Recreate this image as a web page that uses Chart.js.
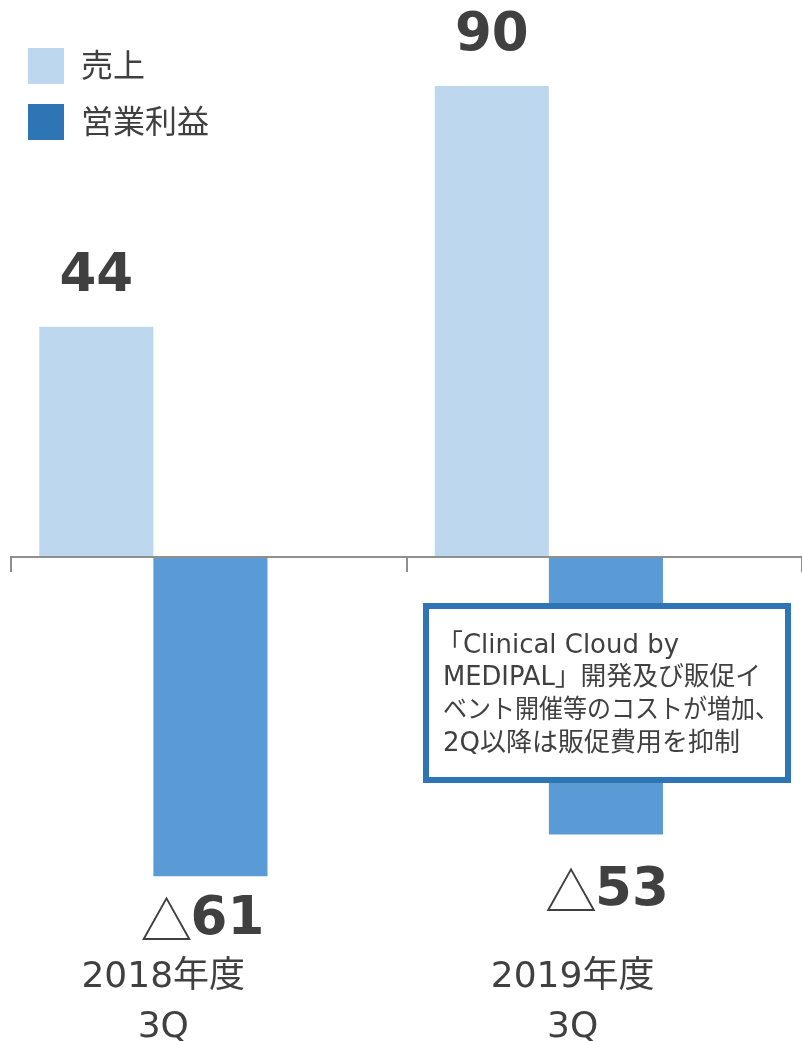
<!DOCTYPE html>
<html>
<head>
<meta charset="utf-8">
<script src="https://cdn.jsdelivr.net/npm/chart.js@4/dist/chart.umd.min.js"></script>
<style>
  html, body { margin: 0; padding: 0; background: #fff; }
  canvas { display: block; }
</style>
</head>
<body>
<canvas id="sales-chart" width="802" height="1041"></canvas>
<script>
const categories = [["2018年度", "3Q"], ["2019年度", "3Q"]];
const seriesNames = ["売上", "営業利益"];
const sales = [44, 90];
const operatingProfit = [-61, -53];
const noteLines = ["「Clinical Cloud by", "MEDIPAL」開発及び販促イ", "ベント開催等のコストが増加、", "2Q以降は販促費用を抑制"];

// bar pairs sit a bit left of each category slot; labels have their own offsets
const barShift = 0.36;
const labelShift = [0.385, 0.42];
const textColor = "#404040";
const latin = '"DejaVu Sans", "Noto Sans CJK JP", sans-serif';
const cjk = '"Noto Sans CJK JP", sans-serif';

// numbers above / below each bar, losses written as △n
const valueLabels = {
    id: "valueLabels",
    afterDatasetsDraw(chart, args, opts) {
        const ctx = chart.ctx;
        ctx.save();
        ctx.fillStyle = textColor;
        ctx.textBaseline = "middle";
        ctx.textAlign = "left";
        chart.data.datasets.forEach((ds, di) => {
            chart.getDatasetMeta(di).data.forEach((bar, i) => {
                const v = ds.data[i].y;
                const gap = opts.gaps[di][i];
                const y = v >= 0 ? bar.y - gap : bar.y + gap;
                const num = String(Math.abs(v));
                ctx.font = "bold 53px " + latin;
                const nw = ctx.measureText(num).width;
                let mw = 0;
                if (v < 0) {
                    ctx.font = "52px " + cjk;
                    mw = ctx.measureText("△").width;
                }
                let x = bar.x - (mw + nw) / 2 + opts.dx[di][i];
                if (v < 0) {
                    ctx.fillText("△", x, y);
                    x += mw - 2;
                }
                ctx.font = "bold 53px " + latin;
                ctx.fillText(num, x, y);
            });
        });
        ctx.restore();
    }
};

const legendBlock = {
    id: "legendBlock",
    afterDraw(chart, args, opts) {
        const ctx = chart.ctx;
        ctx.save();
        ctx.font = "32px " + cjk;
        ctx.textBaseline = "middle";
        ctx.textAlign = "left";
        chart.data.datasets.forEach((ds, i) => {
            const top = opts.top + i * opts.step;
            ctx.fillStyle = opts.colors[i];
            ctx.fillRect(opts.left, top, opts.box, opts.box);
            ctx.fillStyle = textColor;
            ctx.fillText(ds.label, opts.left + opts.box + 17, top + opts.box / 2 - 1);
        });
        ctx.restore();
    }
};

const noteBox = {
    id: "noteBox",
    afterDraw(chart, args, opts) {
        const ctx = chart.ctx;
        ctx.save();
        ctx.fillStyle = "#fff";
        ctx.fillRect(opts.x, opts.y, opts.w, opts.h);
        ctx.strokeStyle = "#2E75B6";
        ctx.lineWidth = 6;
        ctx.strokeRect(opts.x, opts.y, opts.w, opts.h);
        ctx.fillStyle = textColor;
        ctx.font = "26px " + latin;
        ctx.textBaseline = "middle";
        ctx.textAlign = "left";
        noteLines.forEach((t, i) => {
            const x = opts.x + (i === 0 ? 11 : 17);
            ctx.fillText(t, x, opts.y + 40 + i * 32.7, opts.lineWidths[i]);
        });
        ctx.restore();
    }
};

new Chart(document.getElementById("sales-chart"), {
    type: "bar",
    data: {
        datasets: [
            {
                label: seriesNames[0],
                data: sales.map((v, i) => ({ x: i + barShift, y: v })),
                backgroundColor: "#BDD7EE",
                xAxisID: "x",
                categoryPercentage: 0.577,
                barPercentage: 1,
            },
            {
                label: seriesNames[1],
                data: operatingProfit.map((v, i) => ({ x: i + barShift, y: v })),
                backgroundColor: "#5B9BD5",
                xAxisID: "x",
                categoryPercentage: 0.577,
                barPercentage: 1,
            },
        ],
    },
    options: {
        responsive: false,
        animation: false,
        layout: { padding: { top: 33.7, left: 11, right: 0, bottom: 0 } },
        plugins: {
            legend: { display: false },
            tooltip: { enabled: false },
            valueLabels: { gaps: [[50, 50], [44, 57]], dx: [[0, 0], [-7, 2]] },
            legendBlock: { left: 28, top: 48, step: 56, box: 36, colors: ["#BDD7EE", "#2E75B6"] },
            noteBox: { x: 426, y: 606, w: 362, h: 174, lineWidths: [242, 318, 336, 306] },
        },
        scales: {
            x: {
                type: "linear",
                min: 0,
                max: 2,
                offset: false,
                position: { y: 0 },
                ticks: { display: false, stepSize: 1, padding: 0 },
                grid: { offset: false, drawOnChartArea: false, drawTicks: true, tickLength: 14, color: "#8f8f8f", lineWidth: 2, z: 1 },
                border: { display: true, color: "#8f8f8f", width: 2, z: 1 },
            },
            xl: {
                type: "linear",
                axis: "x",
                position: "bottom",
                min: 0,
                max: 2,
                offset: false,
                grid: { display: false },
                border: { display: false },
                ticks: {
                    autoSkip: false,
                    maxRotation: 0,
                    padding: 53,
                    color: textColor,
                    font: { family: latin, size: 36, lineHeight: 1.39 },
                    callback: (v, i) => categories[i],
                },
                afterBuildTicks: (s) => { s.ticks = categories.map((c, i) => ({ value: i + labelShift[i] })); },
                afterFit: (s) => { s.height = 149; },
            },
            y: { display: false, min: -64, max: 100 },
        },
    },
    plugins: [valueLabels, legendBlock, noteBox],
});
</script>
</body>
</html>
